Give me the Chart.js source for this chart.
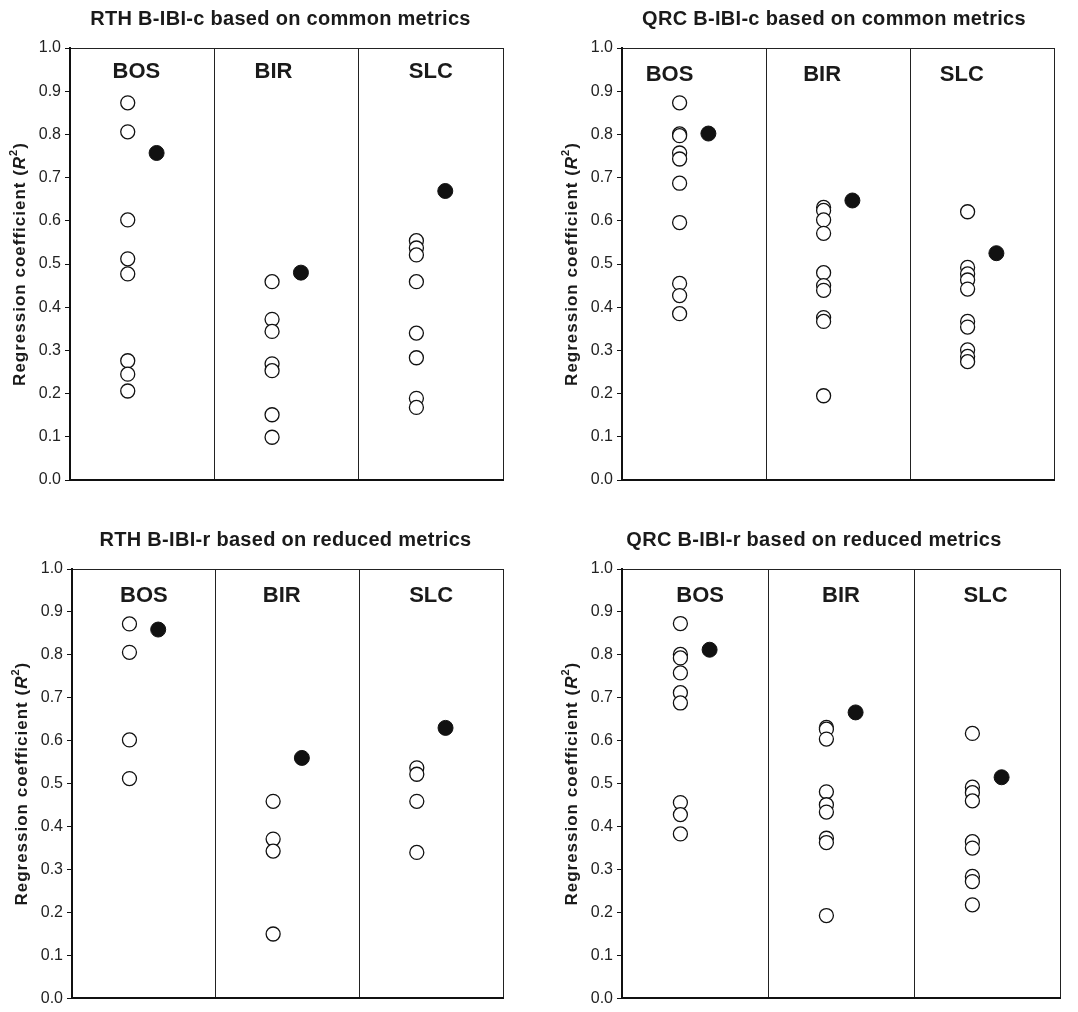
<!DOCTYPE html>
<html>
<head>
<meta charset="utf-8">
<script src="https://cdn.jsdelivr.net/npm/chart.js@4.4.1/dist/chart.umd.min.js"></script>
<style>
  html, body { margin: 0; padding: 0; background: #fff; }
  #wrap { position: relative; width: 1078px; height: 1012px; }
  canvas { position: absolute; }
</style>
</head>
<body>
<div id="wrap">
  <canvas id="c1" width="539" height="500" style="left:0;top:0"></canvas>
  <canvas id="c2" width="539" height="500" style="left:539px;top:0"></canvas>
  <canvas id="c3" width="539" height="512" style="left:0;top:500px"></canvas>
  <canvas id="c4" width="539" height="512" style="left:539px;top:500px"></canvas>
</div>
<script>
  const sites = ["BOS", "BIR", "SLC"];
  const yTicks = [0, 0.1, 0.2, 0.3, 0.4, 0.5, 0.6, 0.7, 0.8, 0.9, 1.0];

  // open circles = individual values, filled = the combined index, one list per site
  const rthCommonOpen = [
    [0.873, 0.806, 0.602, 0.512, 0.477, 0.276, 0.245, 0.206],
    [0.459, 0.372, 0.344, 0.269, 0.253, 0.151, 0.099],
    [0.554, 0.537, 0.521, 0.459, 0.340, 0.283, 0.189, 0.168]
  ];
  const rthCommonFilled = [0.757, 0.480, 0.669];

  const qrcCommonOpen = [
    [0.873, 0.801, 0.797, 0.757, 0.743, 0.687, 0.596, 0.455, 0.427, 0.385],
    [0.631, 0.624, 0.602, 0.571, 0.480, 0.450, 0.439, 0.376, 0.367, 0.195],
    [0.621, 0.492, 0.477, 0.463, 0.442, 0.367, 0.354, 0.301, 0.286, 0.274]
  ];
  const qrcCommonFilled = [0.802, 0.647, 0.525];

  const rthReducedOpen = [
    [0.872, 0.806, 0.602, 0.512],
    [0.459, 0.371, 0.343, 0.150],
    [0.537, 0.522, 0.459, 0.340]
  ];
  const rthReducedFilled = [0.859, 0.560, 0.630];

  const qrcReducedOpen = [
    [0.873, 0.801, 0.793, 0.758, 0.712, 0.688, 0.456, 0.428, 0.383],
    [0.631, 0.627, 0.604, 0.481, 0.451, 0.434, 0.373, 0.363, 0.193],
    [0.617, 0.492, 0.479, 0.460, 0.365, 0.350, 0.284, 0.272, 0.218]
  ];
  const qrcReducedFilled = [0.812, 0.666, 0.515];

  const FONT = '"Liberation Sans", Arial, sans-serif';
  const INK = '#1a1a1a';

  // titles, site names and the y title with italic R and superscript 2
  const annot = {
    id: 'annot',
    afterDraw(chart, args, o) {
      const ctx = chart.ctx, a = chart.chartArea;
      const x = chart.scales.x, y = chart.scales.y;
      ctx.save();
      ctx.fillStyle = INK;
      ctx.textAlign = 'center';
      ctx.textBaseline = 'middle';
      ctx.font = 'bold 20px ' + FONT;
      ctx.letterSpacing = '0.3px';
      ctx.fillText(o.title, (a.left + a.right) / 2 + o.titleDx, a.top - 29);
      ctx.letterSpacing = '0px';
      ctx.font = 'bold 22px ' + FONT;
      sites.forEach((s, i) => {
        ctx.fillText(s, x.getPixelForValue(o.labelX[i]), y.getPixelForValue(o.labelY));
      });

      ctx.translate(a.left - 50, (a.top + a.bottom) / 2);
      ctx.rotate(-Math.PI / 2);
      ctx.textAlign = 'left';
      ctx.letterSpacing = '1px';
      const parts = [
        ['Regression coefficient (', 'bold 17px ' + FONT, 0],
        ['R', 'italic bold 17px ' + FONT, 0],
        ['2', 'bold 11px ' + FONT, -6],
        [')', 'bold 17px ' + FONT, 0]
      ];
      let total = 0;
      parts.forEach(p => { ctx.font = p[1]; total += ctx.measureText(p[0]).width; });
      let pos = -total / 2;
      parts.forEach(p => {
        ctx.font = p[1];
        ctx.fillText(p[0], pos, p[2]);
        pos += ctx.measureText(p[0]).width;
      });
      ctx.restore();
    }
  };

  function pts(lists, dx) {
    const out = [];
    lists.forEach((vals, i) => vals.forEach(v => out.push({ x: i + dx, y: v })));
    return out;
  }

  function makePanel(id, title, open, filled, pad, titleDx, labelX, labelY) {
    new Chart(document.getElementById(id), {
      type: 'scatter',
      data: {
        datasets: [
          {
            data: pts(open, 0.4),
            pointRadius: 7,
            pointBackgroundColor: '#fff',
            pointBorderColor: '#111',
            pointBorderWidth: 1.3
          },
          {
            data: filled.map((v, i) => ({ x: i + 0.6, y: v })),
            pointRadius: 7.5,
            pointBackgroundColor: '#111',
            pointBorderColor: '#111',
            pointBorderWidth: 1
          }
        ]
      },
      options: {
        responsive: false,
        animation: false,
        layout: { padding: pad },
        plugins: {
          legend: { display: false },
          tooltip: { enabled: false },
          annot: { title: title, titleDx: titleDx, labelX: labelX, labelY: labelY }
        },
        scales: {
          x: {
            type: 'linear', min: 0, max: 3,
            ticks: { display: false, stepSize: 1 },
            grid: { color: '#222', lineWidth: 1, drawTicks: false },
            border: { color: '#111', width: 2 }
          },
          y: {
            min: 0, max: 1,
            afterBuildTicks: s => { s.ticks = yTicks.map(v => ({ value: v })); },
            afterFit: s => { s.width = 45; },
            ticks: {
              padding: 4,
              color: '#222',
              font: { family: FONT, size: 16 },
              callback: v => Number(v).toFixed(1)
            },
            grid: {
              color: c => (c.tick && Math.abs(c.tick.value - 1) < 1e-9) ? '#222' : 'rgba(0,0,0,0)',
              tickColor: '#111',
              tickLength: 5,
              lineWidth: 1
            },
            border: { color: '#111', width: 2 }
          }
        }
      },
      plugins: [annot]
    });
  }

  makePanel('c1', 'RTH B-IBI-c based on common metrics', rthCommonOpen, rthCommonFilled,
    { left: 25, top: 48, right: 36, bottom: 20 }, -6, [0.46, 1.41, 2.50], 0.945);
  makePanel('c2', 'QRC B-IBI-c based on common metrics', qrcCommonOpen, qrcCommonFilled,
    { left: 38, top: 48, right: 24, bottom: 20 }, -4, [0.33, 1.39, 2.36], 0.937);
  makePanel('c3', 'RTH B-IBI-r based on reduced metrics', rthReducedOpen, rthReducedFilled,
    { left: 27, top: 69, right: 36, bottom: 12 }, -2, [0.50, 1.46, 2.50], 0.938);
  makePanel('c4', 'QRC B-IBI-r based on reduced metrics', qrcReducedOpen, qrcReducedFilled,
    { left: 38, top: 69, right: 18, bottom: 11 }, -27, [0.535, 1.50, 2.49], 0.937);
</script>
</body>
</html>
